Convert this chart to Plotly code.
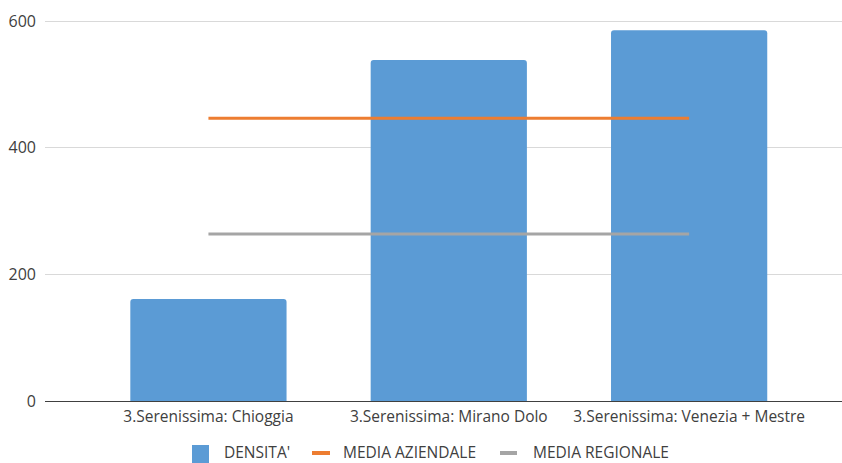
import plotly.graph_objects as go

categories = ["3.Serenissima: Chioggia", "3.Serenissima: Mirano Dolo", "3.Serenissima: Venezia + Mestre"]
densita = [161, 539, 586]
media_aziendale = [447, 447, 447]
media_regionale = [264, 264, 264]
y_ticks = [0, 200, 400, 600]

series_names = ["DENSITA'", "MEDIA AZIENDALE", "MEDIA REGIONALE"]
series_colors = ["#5B9BD5", "#ED7D31", "#A5A5A5"]

text_color = "#404040"
font_family = "Open Sans, Noto Sans, sans-serif"

W, H = 842, 463
M = dict(l=45, r=0, t=15, b=62)
plot_w = W - M["l"] - M["r"]
plot_h = H - M["t"] - M["b"]


def px_x(px):
    return (px - M["l"]) / plot_w


def px_y(py):
    return (H - M["b"] - py) / plot_h


fig = go.Figure()
fig.add_trace(go.Bar(
    x=categories, y=densita, name=series_names[0],
    marker=dict(color=series_colors[0], line=dict(width=0)),
    width=0.65,
))
fig.add_trace(go.Scatter(
    x=categories, y=media_aziendale, name=series_names[1],
    mode="lines", line=dict(color=series_colors[1], width=3),
))
fig.add_trace(go.Scatter(
    x=categories, y=media_regionale, name=series_names[2],
    mode="lines", line=dict(color=series_colors[2], width=3),
))

# Legend row along the bottom edge
legend_y = 452
shapes = [
    dict(type="rect", xref="paper", yref="paper",
         x0=px_x(192), x1=px_x(209), y0=px_y(470), y1=px_y(445),
         fillcolor=series_colors[0], line=dict(width=0)),
    dict(type="line", xref="paper", yref="paper",
         x0=px_x(312), x1=px_x(330), y0=px_y(legend_y + 1), y1=px_y(legend_y + 1),
         line=dict(color=series_colors[1], width=4)),
    dict(type="line", xref="paper", yref="paper",
         x0=px_x(500), x1=px_x(517), y0=px_y(legend_y + 1), y1=px_y(legend_y + 1),
         line=dict(color=series_colors[2], width=4)),
]
annotations = [
    dict(text=name, xref="paper", yref="paper", x=px_x(xl), y=px_y(legend_y),
         xanchor="left", yanchor="middle", showarrow=False, borderpad=0,
         font=dict(size=15.5, color=text_color, family=font_family))
    for name, xl in zip(series_names, [223, 342, 532])
]

fig.update_layout(
    width=W, height=H,
    margin=M,
    paper_bgcolor="white", plot_bgcolor="white",
    font=dict(family=font_family, size=15, color=text_color),
    barcornerradius=3,
    showlegend=False,
    shapes=shapes,
    annotations=annotations,
    xaxis=dict(
        type="category", range=[-0.68, 2.636],
        showgrid=False, showline=True, linecolor="#404040", linewidth=1,
        ticks="", ticklabelstandoff=1, zeroline=False,
        tickfont=dict(size=15.5, color=text_color),
    ),
    yaxis=dict(
        range=[0, 610], tickvals=y_ticks,
        showgrid=True, gridcolor="#D9D9D9", gridwidth=1,
        zeroline=False, showline=False, ticks="",
        ticklabelstandoff=8,
        tickfont=dict(size=16, color=text_color),
    ),
)

fig.write_html("out.html")
